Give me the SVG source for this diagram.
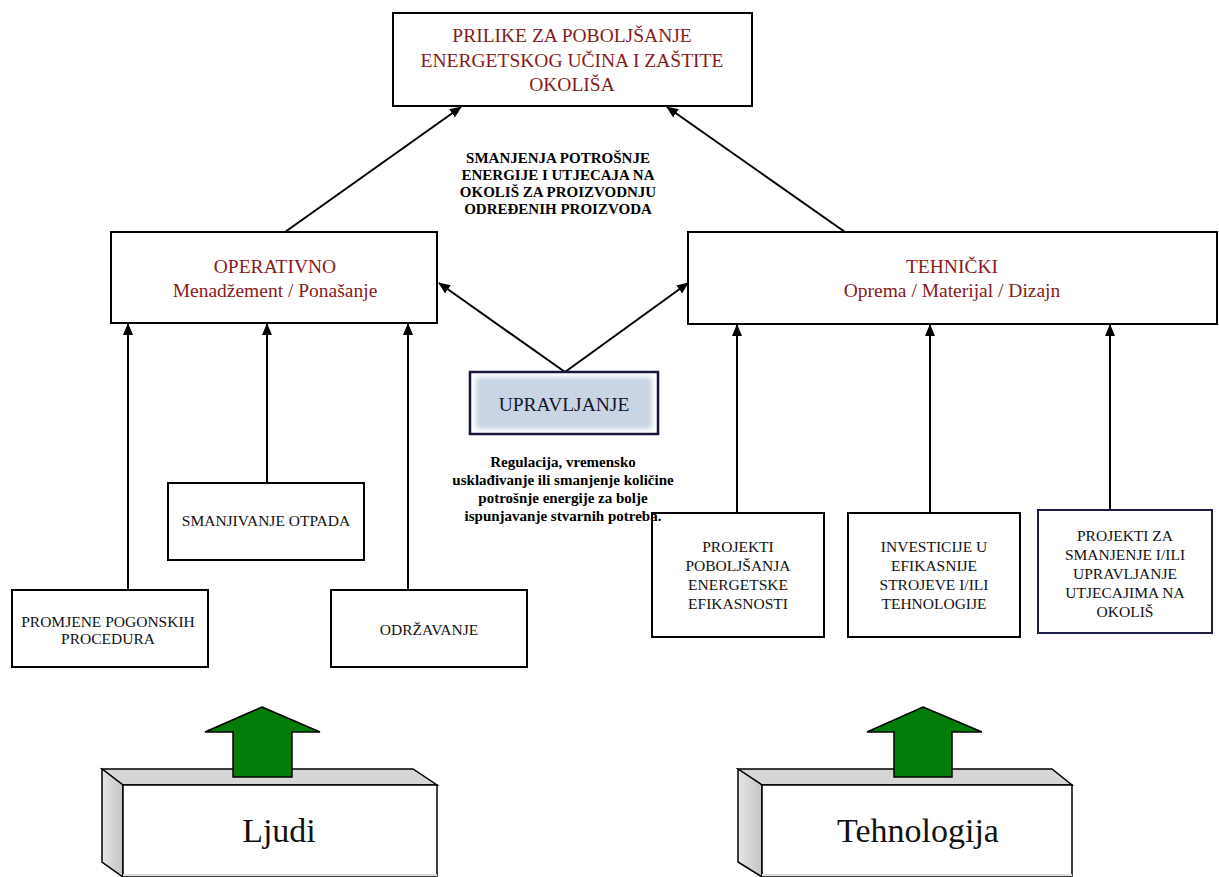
<svg xmlns="http://www.w3.org/2000/svg" width="1219" height="877" viewBox="0 0 1219 877">
<defs>
<marker id="ah" markerWidth="12" markerHeight="10" refX="11" refY="5" orient="auto" markerUnits="userSpaceOnUse">
<path d="M0,0 L12,5 L0,10 z" fill="#000"/>
</marker>
<linearGradient id="side" x1="0" y1="0" x2="1" y2="0">
<stop offset="0" stop-color="#e6e6e6"/><stop offset="1" stop-color="#c4c4c4"/>
</linearGradient>
<filter id="glow" x="-10%" y="-20%" width="120%" height="140%"><feGaussianBlur stdDeviation="2.5"/></filter>
</defs>
<style>
.box{fill:#fff;stroke:#000;stroke-width:2}
.t{font-family:"Liberation Serif","Times New Roman",serif;text-anchor:middle}
.red{fill:#861a1c;font-size:19.5px}
.sm{fill:#111;font-size:15.5px}
.bold{font-weight:bold;font-size:15px;fill:#000}
.con{stroke:#000;stroke-width:2;fill:none;marker-end:url(#ah)}
.green{fill:#047c0a;stroke:#000;stroke-width:1.5}
.big{font-size:34px;fill:#111}
</style>
<rect width="1219" height="877" fill="#fff"/>

<g id="connectors">
<line class="con" x1="285" y1="232" x2="461" y2="107"/>
<line class="con" x1="845" y1="232" x2="667" y2="107"/>
<line class="con" x1="565" y1="372" x2="439" y2="283"/>
<line class="con" x1="565" y1="372" x2="688" y2="283"/>
<line class="con" x1="128" y1="590" x2="128" y2="324"/>
<line class="con" x1="267" y1="483" x2="267" y2="324"/>
<line class="con" x1="408" y1="590" x2="408" y2="324"/>
<line class="con" x1="737" y1="513" x2="737" y2="325"/>
<line class="con" x1="930" y1="513" x2="930" y2="325"/>
<line class="con" x1="1110" y1="510" x2="1110" y2="325"/>
</g>

<g id="top">
<rect class="box" x="393" y="13" width="359" height="93"/>
<text class="t red" x="572" y="42">PRILIKE ZA POBOLJŠANJE</text>
<text class="t red" x="572" y="67">ENERGETSKOG UČINA I ZAŠTITE</text>
<text class="t red" x="572" y="91">OKOLIŠA</text>
</g>

<g id="label-smanjenja">
<text class="t bold" x="558" y="163">SMANJENJA POTROŠNJE</text>
<text class="t bold" x="558" y="180">ENERGIJE I UTJECAJA NA</text>
<text class="t bold" x="558" y="197">OKOLIŠ ZA PROIZVODNJU</text>
<text class="t bold" x="558" y="214">ODREĐENIH PROIZVODA</text>
</g>

<g id="operativno">
<rect class="box" x="111" y="232" width="326" height="91"/>
<text class="t red" x="275" y="273">OPERATIVNO</text>
<text class="t red" x="275" y="297">Menadžement / Ponašanje</text>
</g>

<g id="tehnicki">
<rect class="box" x="688" y="232" width="529" height="92"/>
<text class="t red" x="952" y="273">TEHNIČKI</text>
<text class="t red" x="952" y="297">Oprema / Materijal / Dizajn</text>
</g>

<g id="upravljanje">
<rect x="470" y="372" width="188" height="62" fill="#fff" stroke="#14143a" stroke-width="2.5"/>
<rect x="476" y="377" width="176" height="52" fill="#c9d5e5" filter="url(#glow)"/>
<text class="t" x="564" y="411" style="font-size:19.5px;fill:#15152a">UPRAVLJANJE</text>
</g>

<g id="smanjivanje">
<rect class="box" x="168" y="483" width="196" height="77"/>
<text class="t sm" x="266" y="526">SMANJIVANJE OTPADA</text>
</g>

<g id="promjene">
<rect class="box" x="12" y="590" width="196" height="77"/>
<text class="t sm" x="108" y="627">PROMJENE POGONSKIH</text>
<text class="t sm" x="108" y="644">PROCEDURA</text>
</g>

<g id="odrzavanje">
<rect class="box" x="331" y="590" width="196" height="77"/>
<text class="t sm" x="429" y="635">ODRŽAVANJE</text>
</g>

<g id="projekti-poboljsanja">
<rect class="box" x="652" y="513" width="172" height="124"/>
<text class="t sm" x="738" y="552">PROJEKTI</text>
<text class="t sm" x="738" y="571">POBOLJŠANJA</text>
<text class="t sm" x="738" y="590">ENERGETSKE</text>
<text class="t sm" x="738" y="609">EFIKASNOSTI</text>
</g>

<g id="investicije">
<rect class="box" x="848" y="513" width="172" height="124"/>
<text class="t sm" x="934" y="552">INVESTICIJE U</text>
<text class="t sm" x="934" y="571">EFIKASNIJE</text>
<text class="t sm" x="934" y="590">STROJEVE I/ILI</text>
<text class="t sm" x="934" y="609">TEHNOLOGIJE</text>
</g>

<g id="projekti-za">
<rect x="1038" y="510" width="174" height="123" fill="#fff" stroke="#1c1c4a" stroke-width="2"/>
<text class="t sm" x="1125" y="541">PROJEKTI ZA</text>
<text class="t sm" x="1125" y="560">SMANJENJE I/ILI</text>
<text class="t sm" x="1125" y="579">UPRAVLJANJE</text>
<text class="t sm" x="1125" y="598">UTJECAJIMA NA</text>
<text class="t sm" x="1125" y="617">OKOLIŠ</text>
</g>

<g id="label-regulacija">
<text class="t bold" x="563" y="467">Regulacija, vremensko</text>
<text class="t bold" x="563" y="485">usklađivanje ili smanjenje količine</text>
<text class="t bold" x="563" y="503">potrošnje energije za bolje</text>
<text class="t bold" x="563" y="521">ispunjavanje stvarnih potreba.</text>
</g>

<g id="ljudi">
<polygon points="102,769 413,769 437,785 123,785" fill="#d6d6d6" stroke="#000" stroke-width="1.5"/>
<polygon points="102,769 123,785 123,877 102,862" fill="url(#side)" stroke="#000" stroke-width="1.5"/>
<rect x="123" y="785" width="314" height="91" fill="#fff" stroke="#000" stroke-width="1.5"/>
<line x1="123" y1="875" x2="437" y2="875" stroke="#ddd" stroke-width="2"/>
<polygon class="green" points="262,707 320,732 292,732 292,777 233,777 233,732 205,732"/>
<text class="t big" x="279" y="842">Ljudi</text>
</g>

<g id="tehnologija">
<polygon points="738,769 1052,769 1072,785 762,785" fill="#d6d6d6" stroke="#000" stroke-width="1.5"/>
<polygon points="738,769 762,785 762,877 738,862" fill="url(#side)" stroke="#000" stroke-width="1.5"/>
<rect x="762" y="785" width="310" height="91" fill="#fff" stroke="#000" stroke-width="1.5"/>
<line x1="762" y1="875" x2="1072" y2="875" stroke="#ddd" stroke-width="2"/>
<polygon class="green" points="923,707 982,732 952,732 952,777 894,777 894,732 867,732"/>
<text class="t big" x="918" y="842">Tehnologija</text>
</g>
</svg>
